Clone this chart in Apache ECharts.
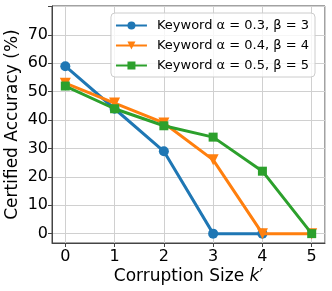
<!DOCTYPE html>
<html><head><meta charset="utf-8">
<script src="https://cdn.jsdelivr.net/npm/echarts@6/dist/echarts.min.js"></script>
<style>html,body{margin:0;padding:0;background:#fff}#c{width:332px;height:291px}</style>
</head><body><div id="c"></div>
<script>
const xValues = [0, 1, 2, 3, 4, 5];
const seriesNames = ['Keyword α = 0.3, β = 3', 'Keyword α = 0.4, β = 4', 'Keyword α = 0.5, β = 5'];
const blueValues = [59, 44, 29, 0, 0];
const orangeValues = [53, 46, 39, 26, 0, 0];
const greenValues = [52, 44, 38, 34, 22, 0];
const colors = ['#1f77b4', '#ff7f0e', '#2ca02c'];
const font = 'DejaVu Sans';

function pairs(vals){ return vals.map((v,i)=>[xValues[i], v]); }
const intLabel = v => (Math.abs(v - Math.round(v)) < 1e-6 ? String(Math.round(v)) : '');

const chart = echarts.init(document.getElementById('c'));
chart.setOption({
  animation: false,
  textStyle: {fontFamily: font},
  grid: {left: 52, right: 7, top: 6, bottom: 48, outerBoundsMode: 'none', containLabel: false,
         show: true, borderColor: '#444', borderWidth: 1, backgroundColor: 'transparent'},
  legend: {
    orient: 'vertical', right: 17, top: 13,
    itemWidth: 31, itemHeight: 10, itemGap: 7,
    padding: [6, 6, 5, 4],
    backgroundColor: 'rgba(255,255,255,0.8)',
    borderColor: '#cccccc', borderWidth: 1, borderRadius: 4,
    textStyle: {fontFamily: font, fontSize: 13, color: '#000', padding: [0, 0, 0, 5]},
    data: seriesNames
  },
  xAxis: {
    type: 'value', min: -0.27, max: 5.27, splitNumber: 5,
    name: 'Corruption Size {i|k}′', nameLocation: 'middle', nameGap: 25, nameMoveOverlap: false,
    nameTextStyle: {fontFamily: font, fontSize: 17, color: '#000', rich: {i: {fontFamily: font, fontStyle: 'italic', fontSize: 17}}},
    axisLine: {onZero: false, lineStyle: {color: '#444', width: 1}},
    axisTick: {show: true, length: 4, inside: false, lineStyle: {color: '#444'}},
    axisLabel: {fontSize: 16, color: '#000', margin: 6, showMinLabel: false, showMaxLabel: false, formatter: intLabel},
    splitLine: {show: true, lineStyle: {color: '#d0d0d0', width: 1}}
  },
  yAxis: {
    type: 'value', min: -3.3, max: 80.2, splitNumber: 8,
    name: 'Certified Accuracy (%)', nameLocation: 'middle', nameGap: 31, nameMoveOverlap: false,
    nameTextStyle: {fontFamily: font, fontSize: 17, color: '#000'},
    axisLine: {show: true, onZero: false, lineStyle: {color: '#444', width: 1}},
    axisTick: {show: true, length: 4, lineStyle: {color: '#444'}},
    axisLabel: {fontSize: 16, color: '#000', margin: 4, showMinLabel: false, showMaxLabel: false,
      formatter: v => (v >= 0 && v <= 70 && Math.abs(v - Math.round(v)) < 1e-6) ? String(Math.round(v)) : ''},
    splitLine: {show: true, lineStyle: {color: '#d0d0d0', width: 1}}
  },
  series: [
    {name: seriesNames[0], type: 'line', data: pairs(blueValues), color: colors[0],
     symbol: 'circle', symbolSize: 10, lineStyle: {width: 3}, z: 3},
    {name: seriesNames[1], type: 'line', data: pairs(orangeValues), color: colors[1],
     symbol: 'triangle', symbolRotate: 180, symbolSize: 11, lineStyle: {width: 3}, z: 4},
    {name: seriesNames[2], type: 'line', data: pairs(greenValues), color: colors[2],
     symbol: 'rect', symbolSize: 9, lineStyle: {width: 3}, z: 5}
  ]
});
</script>
</body></html>
